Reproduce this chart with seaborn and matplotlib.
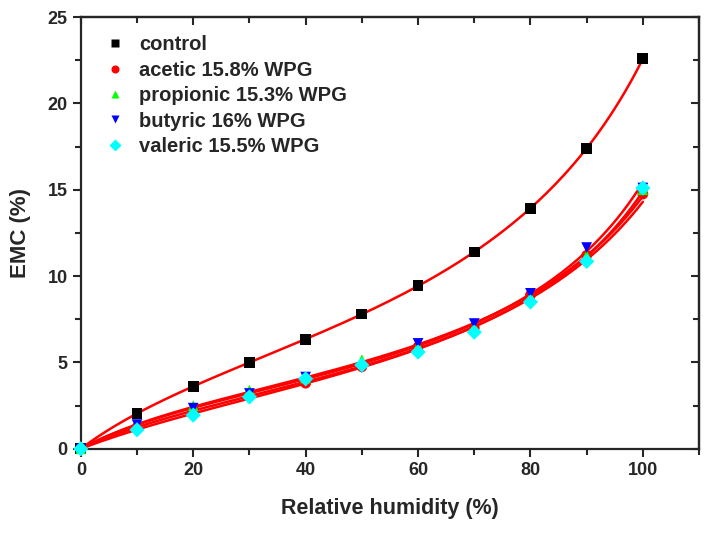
import numpy as np
import pandas as pd
import matplotlib
matplotlib.use("Agg")
import matplotlib.pyplot as plt
import seaborn as sns
from matplotlib.ticker import MultipleLocator

# relative humidity (%) and EMC (%)
rh = [0, 10, 20, 30, 40, 50, 60, 70, 80, 90, 100]
control = [0, 2.05, 3.6, 5.0, 6.35, 7.8, 9.45, 11.4, 13.9, 17.4, 22.6]
acetic = [0, 1.25, 2.2, 3.1, 3.8, 4.75, 5.9, 7.0, 8.9, 11.2, 14.75]
propionic = [0, 1.35, 2.5, 3.4, 4.1, 5.15, 5.95, 7.05, 8.8, 11.2, 15.0]
butyric = [0, 1.4, 2.35, 3.2, 4.15, 4.7, 6.1, 7.25, 9.0, 11.65, 15.1]
valeric = [0, 1.1, 1.95, 3.0, 4.05, 4.85, 5.6, 6.75, 8.5, 10.85, 15.1]

names = ["control", "acetic 15.8% WPG", "propionic 15.3% WPG",
         "butyric 16% WPG", "valeric 15.5% WPG"]
series = [control, acetic, propionic, butyric, valeric]
colors = ["#000000", "#ff0000", "#00ff00", "#0000ff", "#00ffff"]
markers = ["s", "o", "^", "v", "D"]

df = pd.concat([pd.DataFrame({"rh": rh, "emc": s, "sample": n})
                for n, s in zip(names, series)], ignore_index=True)


def gab_fit(x, y):
    """GAB isotherm via its quadratic form aw/M = a*aw^2 + b*aw + c"""
    aw = np.asarray(x[1:]) / 100.0
    m = np.asarray(y[1:])
    a, b, c = np.polyfit(aw, aw / m, 2)
    grid = np.linspace(0, 1, 200)
    return grid * 100, grid / (a * grid ** 2 + b * grid + c)


fits = []
for n, s in zip(names, series):
    gx, gy = gab_fit(rh, s)
    fits.append(pd.DataFrame({"rh": gx, "emc": gy, "sample": n}))
fit_df = pd.concat(fits, ignore_index=True)

sns.set_style("ticks")
plt.rcParams["font.family"] = ["Liberation Sans", "DejaVu Sans"]
plt.rcParams["font.weight"] = "bold"

fig = plt.figure(figsize=(7.09, 5.33), dpi=100)
ax = fig.add_axes([0.114, 0.158, 0.872, 0.810])

# fitted curves (red, no legend)
sns.lineplot(data=fit_df, x="rh", y="emc", units="sample", estimator=None,
             color="#ff0000", linewidth=1.8, sort=False, legend=False, ax=ax,
             zorder=2)

sns.scatterplot(data=df, x="rh", y="emc", hue="sample", style="sample",
                hue_order=names, style_order=names,
                palette=dict(zip(names, colors)), markers=dict(zip(names, markers)),
                s=60, edgecolor="none", ax=ax, zorder=3, clip_on=False)

ax.set_xlim(0, 110)
ax.set_ylim(0, 25)
ax.xaxis.set_major_locator(MultipleLocator(20))
ax.xaxis.set_minor_locator(MultipleLocator(10))
ax.yaxis.set_major_locator(MultipleLocator(5))
ax.yaxis.set_minor_locator(MultipleLocator(2.5))
ax.tick_params(which="major", direction="out", length=6, width=1.5, labelsize=13)
ax.tick_params(which="minor", direction="out", length=4, width=1.5)
for lab in ax.get_xticklabels() + ax.get_yticklabels():
    lab.set_fontweight("bold")

for sp in ax.spines.values():
    sp.set_visible(True)
    sp.set_linewidth(1.6)

# inward ticks on the top and right
top = ax.secondary_xaxis("top")
top.xaxis.set_major_locator(MultipleLocator(20))
top.xaxis.set_minor_locator(MultipleLocator(10))
top.tick_params(which="both", direction="in", width=1.5, labeltop=False)
top.tick_params(which="major", length=6)
top.tick_params(which="minor", length=4)
right = ax.secondary_yaxis("right")
right.yaxis.set_major_locator(MultipleLocator(5))
right.yaxis.set_minor_locator(MultipleLocator(2.5))
right.tick_params(which="both", direction="in", width=1.5, labelright=False)
right.tick_params(which="major", length=6)
right.tick_params(which="minor", length=4)
for sec in (top, right):
    for sp in sec.spines.values():
        sp.set_linewidth(1.6)

ax.set_xlabel("Relative humidity (%)", fontsize=15.5, fontweight="bold", labelpad=14)
ax.set_ylabel("EMC (%)", fontsize=16, fontweight="bold", labelpad=12)

handles, labels = ax.get_legend_handles_labels()
ax.legend(handles, labels, loc="upper left", frameon=False,
          prop={"size": 14.5, "weight": "bold"}, labelspacing=0.32,
          handlelength=1.6, handletextpad=0.4, borderaxespad=0.5,
          markerscale=0.75)

fig.savefig("out.png", dpi=100)
